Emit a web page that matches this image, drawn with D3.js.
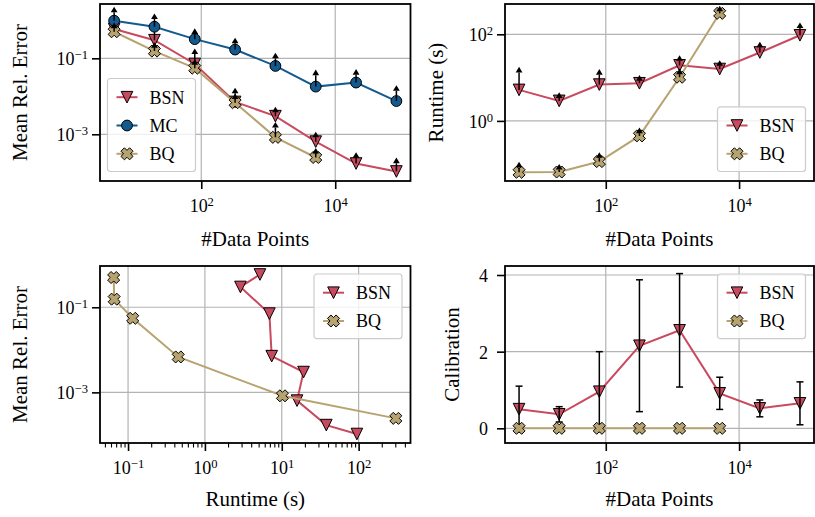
<!DOCTYPE html>
<html>
<head>
<meta charset="utf-8">
<script src="https://cdn.jsdelivr.net/npm/d3@7"></script>
<style>
  html, body { margin: 0; padding: 0; background: #fff; }
  svg { display: block; font-family: "Liberation Serif", "Times New Roman", serif; font-weight: 400; }
</style>
</head>
<body>
<svg id="chart" width="815" height="517"></svg>
<script>
// ---- data ---------------------------------------------------------------
const dataPoints   = [5, 20, 80, 320, 1280, 5120, 20480, 81920];
const bqDataPoints = [5, 20, 80, 320, 1280, 5120];

// mean relative error (value and upper end of the one-sided error bar)
const bsnError   = [0.59, 0.30, 0.071, 0.0071, 0.0030, 0.00064, 0.00017, 0.000105];
const bsnErrorHi = [0.90, 0.55, 0.13, 0.012, 0.0038, 0.00083, 0.00024, 0.000174];
const mcError    = [0.98, 0.68, 0.32, 0.17, 0.063, 0.018, 0.023, 0.0075];
const mcErrorHi  = [1.62, 1.08, 0.44, 0.248, 0.10, 0.036, 0.037, 0.014];
const bqError    = [0.50, 0.155, 0.055, 0.0068, 0.00083, 0.000245];
const bqErrorHi  = [0.62, 0.19, 0.068, 0.0085, 0.0015, 0.00031];

// runtime in seconds
const bsnRuntime   = [5.2, 2.9, 6.9, 7.4, 19.2, 15.8, 38, 95];
const bsnRuntimeHi = [13.2, 3.4, 11.7, 8.5, 24.5, 18.8, 50, 140];
const bqRuntime    = [0.065, 0.066, 0.115, 0.45, 10.2, 305];
const bqRuntimeHi  = [0.085, 0.075, 0.14, 0.52, 12, 340];

// calibration (value and symmetric error)
const bsnCalib    = [0.50, 0.365, 0.955, 2.155, 2.557, 0.913, 0.52, 0.652];
const bsnCalibErr = [0.60, 0.20, 1.045, 1.72, 1.48, 0.42, 0.22, 0.56];
const bqCalib     = [0, 0, 0, 0, 0, 0];

// ticks and axis limits
const sizeTicks        = [1e2, 1e4];
const errorTicks       = [1e-1, 1e-3];
const runtimeTicks     = [1e0, 1e2];
const runtimeAxisTicks = [1e-1, 1e0, 1e1, 1e2];
const calibTicks       = [0, 2, 4];

const sizeLimits        = [Math.pow(10, 0.488), Math.pow(10, 5.124)];
const errorLimits       = [Math.pow(10, -4.23), Math.pow(10, 0.43)];
const runtimeLimits     = [Math.pow(10, -1.388), Math.pow(10, 2.70)];
const runtimeAxisLimits = [Math.pow(10, -1.365), Math.pow(10, 2.675)];
const paretoErrLimits   = [Math.pow(10, -4.19), Math.pow(10, -0.03)];
const calibLimits       = [-0.383, 4.235];

// ---- styles --------------------------------------------------------------
const COLORS = { bsn: "#C94A5F", mc: "#135B8E", bq: "#B7A36F" };

const TRI = "M-5.8,-5.8L5.8,-5.8L0,5.8Z";
const CIRCLE = d3.symbol().type(d3.symbolCircle).size(Math.PI * 5.4 * 5.4)();
const XSHAPE = (() => {
  const base = [[-1,-.4],[-1,.4],[-.4,.4],[-.4,1],[.4,1],[.4,.4],[1,.4],[1,-.4],[.4,-.4],[.4,-1],[-.4,-1],[-.4,-.4]];
  const s = 6.1, c = Math.SQRT1_2;
  return "M" + base.map(([a, b]) => [(a - b) * c * s, (a + b) * c * s].map(v => v.toFixed(2)).join(",")).join("L") + "Z";
})();
const CARET = "M-3.4,0L3.4,0L0,-5.6Z";

const series = {
  bsn: { label: "BSN", color: COLORS.bsn, shape: TRI },
  mc:  { label: "MC",  color: COLORS.mc,  shape: CIRCLE },
  bq:  { label: "BQ",  color: COLORS.bq,  shape: XSHAPE }
};

const svg = d3.select("#chart");

function powLabels(sel) {
  sel.each(function(d) {
    const e = Math.round(Math.log10(d));
    const t = d3.select(this).text(null);
    t.append("tspan").text("10");
    t.append("tspan").attr("dy", "-0.5em").attr("font-size", "0.7em")
      .text(e < 0 ? "\u2212" + (-e) : String(e));
  });
}

function makeAxes(cfg) {
  const { box, x, y } = cfg;
  x.range([0, box.w]);
  y.range([box.h, 0]);
  const g = svg.append("g").attr("transform", `translate(${box.x},${box.y})`);
  const clipId = "clip-" + cfg.id;
  g.append("clipPath").attr("id", clipId)
    .append("rect").attr("x", -2).attr("y", -2).attr("width", box.w + 4).attr("height", box.h + 4);

  // grid
  const grid = g.append("g").attr("stroke", "#b3b3b3").attr("stroke-width", 1.2);
  grid.append("g").selectAll("line").data(cfg.xTicks).join("line")
    .attr("x1", d => x(d)).attr("x2", d => x(d)).attr("y1", 0).attr("y2", box.h);
  grid.append("g").selectAll("line").data(cfg.yTicks).join("line")
    .attr("y1", d => y(d)).attr("y2", d => y(d)).attr("x1", 0).attr("x2", box.w);

  const plot = g.append("g").attr("clip-path", `url(#${clipId})`);

  // axes
  const axes = g.append("g");
  if (cfg.xMinor) {
    const xm = axes.append("g").attr("transform", `translate(0,${box.h})`)
      .call(d3.axisBottom(x).tickValues(cfg.xMinor).tickSize(4.5).tickFormat(""));
    xm.select(".domain").remove();
    xm.selectAll("line").attr("stroke", "#000").attr("stroke-width", 1.1);
  }
  const xa = axes.append("g").attr("transform", `translate(0,${box.h})`)
    .call(d3.axisBottom(x).tickValues(cfg.xTicks).tickSize(8).tickPadding(4));
  xa.select(".domain").remove();
  xa.selectAll("line").attr("stroke", "#000").attr("stroke-width", 1.6);
  xa.selectAll("text").attr("y", 31).attr("dy", 0)
    .attr("font-size", 18).attr("font-family", "Liberation Serif").attr("fill", "#000");
  if (cfg.xLog) xa.selectAll("text").call(powLabels);

  const yAxis = d3.axisLeft(y).tickValues(cfg.yTicks).tickSize(8).tickPadding(cfg.yPad || 4);
  if (!cfg.yLog) yAxis.tickFormat(d3.format("d"));
  const ya = axes.append("g").call(yAxis);
  ya.select(".domain").remove();
  ya.selectAll("line").attr("stroke", "#000").attr("stroke-width", 1.6);
  ya.selectAll("text").attr("dy", "0.36em")
    .attr("font-size", 18).attr("font-family", "Liberation Serif").attr("fill", "#000");
  if (cfg.yLog) ya.selectAll("text").call(powLabels);

  // frame
  axes.append("rect").attr("width", box.w).attr("height", box.h)
    .attr("fill", "none").attr("stroke", "#000").attr("stroke-width", 1.8);

  // axis titles
  g.append("text").attr("x", box.w / 2).attr("y", box.h + cfg.xTitleY)
    .attr("text-anchor", "middle").attr("font-size", 21).text(cfg.xTitle);
  g.append("text")
    .attr("transform", `translate(${cfg.yTitleX},${box.h / 2}) rotate(-90)`)
    .attr("text-anchor", "middle").attr("font-size", 21).text(cfg.yTitle);

  return { g, plot, x, y, box };
}

function drawSeries(ax, s, xs, ys, bars) {
  const pts = xs.map((v, i) => ({ x: ax.x(v), y: ax.y(ys[i]), i }));
  const layer = ax.plot.append("g");
  layer.append("path")
    .attr("d", d3.line().x(d => d.x).y(d => d.y)(pts))
    .attr("fill", "none").attr("stroke", s.color).attr("stroke-width", 2);
  layer.append("g").selectAll("path").data(pts).join("path")
    .attr("transform", d => `translate(${d.x},${d.y})`)
    .attr("d", s.shape).attr("fill", s.color)
    .attr("stroke", "#000").attr("stroke-width", 1);
  if (!bars) return;
  const eb = layer.append("g").attr("stroke", "#000").attr("stroke-width", 1.5);
  if (bars.upper) {
    const ends = pts.map(d => ({ x: d.x, y0: d.y, y1: ax.y(bars.upper[d.i]) }));
    eb.selectAll("line").data(ends).join("line")
      .attr("x1", d => d.x).attr("x2", d => d.x).attr("y1", d => d.y0).attr("y2", d => d.y1);
    eb.append("g").selectAll("path").data(ends).join("path")
      .attr("transform", d => `translate(${d.x},${d.y1})`)
      .attr("d", CARET).attr("fill", "#000").attr("stroke", "none");
  }
  if (bars.sym) {
    const ends = pts.map(d => ({
      x: d.x,
      lo: ax.y(ys[d.i] - bars.sym[d.i]),
      hi: ax.y(ys[d.i] + bars.sym[d.i])
    }));
    eb.selectAll("line.bar").data(ends).join("line").attr("class", "bar")
      .attr("x1", d => d.x).attr("x2", d => d.x).attr("y1", d => d.lo).attr("y2", d => d.hi);
    const caps = ends.flatMap(d => [{ x: d.x, y: d.lo }, { x: d.x, y: d.hi }]);
    eb.selectAll("line.cap").data(caps).join("line").attr("class", "cap")
      .attr("x1", d => d.x - 3.5).attr("x2", d => d.x + 3.5).attr("y1", d => d.y).attr("y2", d => d.y);
  }
}

function drawLegend(ax, entries, where) {
  const w = 88, rowH = 28.3, h = 18.7 + rowH * (entries.length - 1) + 17.7;
  const bx = where.endsWith("left") ? 7.5 : ax.box.w - w - 8.5;
  const by = where.startsWith("lower") ? ax.box.h - h - 9.5 : 8;
  const lg = ax.g.append("g").attr("transform", `translate(${bx},${by})`);
  lg.append("rect").attr("width", w).attr("height", h).attr("rx", 3)
    .attr("fill", "#fff").attr("fill-opacity", 0.8)
    .attr("stroke", "#cccccc").attr("stroke-width", 1.2);
  const rows = lg.selectAll("g.row").data(entries).join("g").attr("class", "row")
    .attr("transform", (d, i) => `translate(0,${18.7 + i * rowH})`);
  rows.append("line").attr("x1", 9).attr("x2", 30)
    .attr("stroke", d => d.color).attr("stroke-width", 2);
  rows.append("path").attr("transform", "translate(19.5,0)")
    .attr("d", d => d.shape).attr("fill", d => d.color)
    .attr("stroke", "#000").attr("stroke-width", 1);
  rows.append("text").attr("x", 42).attr("y", 6.3).attr("font-size", 18).text(d => d.label);
}

const minorTicks = [];
[-2, -1, 0, 1, 2].forEach(e => d3.range(2, 10).forEach(k => {
  const v = k * Math.pow(10, e);
  if (v > runtimeAxisLimits[0] && v < runtimeAxisLimits[1]) minorTicks.push(v);
}));

// ---- panel: error vs. data points ----------------------------------------
const axErr = makeAxes({
  id: "err", box: { x: 100, y: 4, w: 310.5, h: 177 },
  x: d3.scaleLog().domain(sizeLimits), y: d3.scaleLog().domain(errorLimits),
  xTicks: sizeTicks, yTicks: errorTicks, xLog: true, yLog: true,
  xTitle: "#Data Points", xTitleY: 65, yTitle: "Mean Rel. Error", yTitleX: -73
});
drawSeries(axErr, series.bsn, dataPoints, bsnError, { upper: bsnErrorHi });
drawSeries(axErr, series.mc, dataPoints, mcError, { upper: mcErrorHi });
drawSeries(axErr, series.bq, bqDataPoints, bqError, { upper: bqErrorHi });
drawLegend(axErr, [series.bsn, series.mc, series.bq], "lower left");

// ---- panel: runtime vs. data points --------------------------------------
const axRun = makeAxes({
  id: "run", box: { x: 505, y: 4, w: 309, h: 177 },
  x: d3.scaleLog().domain(sizeLimits), y: d3.scaleLog().domain(runtimeLimits),
  xTicks: sizeTicks, yTicks: runtimeTicks, xLog: true, yLog: true,
  xTitle: "#Data Points", xTitleY: 65, yTitle: "Runtime (s)", yTitleX: -62
});
drawSeries(axRun, series.bsn, dataPoints, bsnRuntime, { upper: bsnRuntimeHi });
drawSeries(axRun, series.bq, bqDataPoints, bqRuntime, { upper: bqRuntimeHi });
drawLegend(axRun, [series.bsn, series.bq], "lower right");

// ---- panel: error vs. runtime --------------------------------------------
const axPareto = makeAxes({
  id: "pareto", box: { x: 100, y: 266, w: 310.5, h: 177 },
  x: d3.scaleLog().domain(runtimeAxisLimits), y: d3.scaleLog().domain(paretoErrLimits),
  xTicks: runtimeAxisTicks, yTicks: errorTicks, xMinor: minorTicks, xLog: true, yLog: true,
  xTitle: "Runtime (s)", xTitleY: 63, yTitle: "Mean Rel. Error", yTitleX: -73
});
drawSeries(axPareto, series.bsn, bsnRuntime, bsnError);
drawSeries(axPareto, series.bq, bqRuntime, bqError);
drawLegend(axPareto, [series.bsn, series.bq], "upper right");

// ---- panel: calibration vs. data points ----------------------------------
const axCal = makeAxes({
  id: "cal", box: { x: 505, y: 266, w: 309, h: 177 },
  x: d3.scaleLog().domain(sizeLimits), y: d3.scaleLinear().domain(calibLimits),
  xTicks: sizeTicks, yTicks: calibTicks, xLog: true, yLog: false, yPad: 9,
  xTitle: "#Data Points", xTitleY: 63, yTitle: "Calibration", yTitleX: -46
});
drawSeries(axCal, series.bsn, dataPoints, bsnCalib, { sym: bsnCalibErr });
drawSeries(axCal, series.bq, bqDataPoints, bqCalib);
drawLegend(axCal, [series.bsn, series.bq], "upper right");
</script>
</body>
</html>
